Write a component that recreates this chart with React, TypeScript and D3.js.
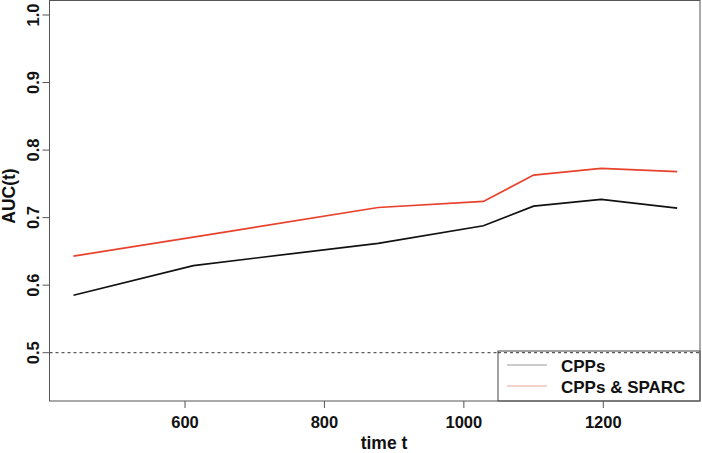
import * as d3 from 'd3';

// time points and AUC(t) for both models
const times = [440, 612, 877, 1028, 1100, 1197, 1306];
const aucCPPs = [0.585, 0.629, 0.662, 0.688, 0.717, 0.727, 0.714];
const aucCPPsSPARC = [0.643, 0.671, 0.715, 0.724, 0.763, 0.773, 0.768];
const xTicks = [600, 800, 1000, 1200];
const yTicks = [0.5, 0.6, 0.7, 0.8, 0.9, 1.0];
const legendLabels = ['CPPs', 'CPPs & SPARC'];

const W = 702;
const H = 453;
const box = { left: 49.5, right: 700, top: 0.5, bottom: 401 };
const font = '"Liberation Sans", Arial, Helvetica, sans-serif';
const RED = '#e8412c';

export default function App() {
  const x = d3.scaleLinear().domain([600, 1200]).range([185, 603.3]);
  const y = d3.scaleLinear().domain([0.5, 1.0]).range([352.7, 15]);

  const line = d3
    .line<number>()
    .x((_, i) => x(times[i]))
    .y((d) => y(d));

  const series = [
    { label: legendLabels[0], values: aucCPPs, color: '#111', legendColor: '#9a9a9a' },
    { label: legendLabels[1], values: aucCPPsSPARC, color: RED, legendColor: '#eaa8a0' },
  ];

  const legend = { x0: 498, y0: 351, x1: box.right, y1: box.bottom };

  return (
    <svg
      width={W}
      height={H}
      style={{ position: 'absolute', left: 0, top: 0, background: '#fff' }}
      fontFamily={font}
      fontWeight="bold"
    >
      <rect x={0} y={0} width={W} height={H} fill="#fff" />

      {/* reference line at 0.5 */}
      <line
        x1={box.left}
        x2={box.right}
        y1={y(0.5)}
        y2={y(0.5)}
        stroke="#333"
        strokeWidth={1}
        strokeDasharray="3,3"
      />

      {series.map((s) => (
        <path key={s.label} d={line(s.values) ?? ''} fill="none" stroke={s.color} strokeWidth={1.7} />
      ))}

      {/* legend */}
      <rect
        x={legend.x0}
        y={legend.y0}
        width={legend.x1 - legend.x0}
        height={legend.y1 - legend.y0}
        fill="#fff"
        stroke="#444"
        strokeWidth={1}
      />
      <line x1={legend.x0} x2={legend.x1} y1={y(0.5)} y2={y(0.5)} stroke="#333" strokeDasharray="3,3" />
      {series.map((s, i) => (
        <g key={s.label} transform={`translate(0, ${365 + i * 21})`}>
          <line x1={507} x2={547} y1={0} y2={0} stroke={s.legendColor} strokeWidth={1.2} />
          <text x={561} y={6.5} fontSize={17} fill="#111">
            {s.label}
          </text>
        </g>
      ))}

      {/* plot box */}
      <rect
        x={box.left}
        y={box.top}
        width={box.right - box.left}
        height={box.bottom - box.top}
        fill="none"
        stroke="#555"
        strokeWidth={1}
      />

      {/* x axis */}
      {xTicks.map((t) => (
        <g key={t}>
          <line x1={x(t)} x2={x(t)} y1={box.bottom} y2={box.bottom + 7} stroke="#555" />
          <text x={x(t)} y={428} fontSize={16.5} textAnchor="middle" fill="#111">
            {t}
          </text>
        </g>
      ))}
      <text x={384} y={449} fontSize={17.5} textAnchor="middle" fill="#111">
        time t
      </text>

      {/* y axis */}
      {yTicks.map((t) => (
        <g key={t}>
          <line x1={box.left - 7} x2={box.left} y1={y(t)} y2={y(t)} stroke="#555" />
          <text
            transform={`translate(38.5, ${y(t)}) rotate(-90)`}
            fontSize={16.5}
            textAnchor="middle"
            fill="#111"
          >
            {t.toFixed(1)}
          </text>
        </g>
      ))}
      <text transform={`translate(15, 196) rotate(-90)`} fontSize={17.5} textAnchor="middle" fill="#111">
        AUC(t)
      </text>
    </svg>
  );
}
